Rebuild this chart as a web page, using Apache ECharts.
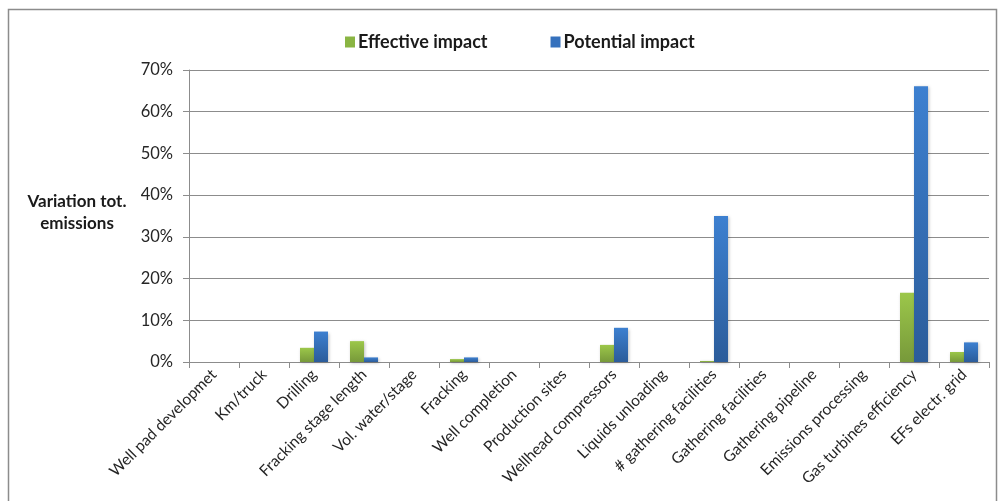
<!DOCTYPE html>
<html>
<head>
<meta charset="utf-8">
<script src="https://cdn.jsdelivr.net/npm/echarts@6/dist/echarts.min.js"></script>
<style>
  html, body { margin: 0; padding: 0; background: #fff; }
  #chart { width: 1000px; height: 501px; }
</style>
</head>
<body>
<div id="chart"></div>
<script>
// Emission drivers analysed
const categories = [
  'Well pad developmet', 'Km/truck', 'Drilling', 'Fracking stage length',
  'Vol. water/stage', 'Fracking', 'Well completion', 'Production sites',
  'Wellhead compressors', 'Liquids unloading', '# gathering facilities',
  'Gathering facilities', 'Gathering pipeline', 'Emissions processing',
  'Gas turbines efficiency', 'EFs electr. grid'
];
// Variation of total emissions, in %
const effectiveImpact = [0, 0, 3.4, 5.0, 0, 0.7, 0, 0, 4.1, 0, 0.25, 0, 0, 0, 16.6, 2.4];
const potentialImpact = [0, 0, 7.3, 1.1, 0, 1.1, 0, 0, 8.2, 0, 35.0, 0, 0, 0, 66.1, 4.7];
const yTicks = [0, 10, 20, 30, 40, 50, 60, 70];

const FONT = 'Lato, "Open Sans", sans-serif';

const greenFill = new echarts.graphic.LinearGradient(0, 0, 0, 1, [
  { offset: 0, color: '#9cc74a' },
  { offset: 1, color: '#77993a' }
]);
const blueFill = new echarts.graphic.LinearGradient(0, 0, 0, 1, [
  { offset: 0, color: '#3d80d0' },
  { offset: 1, color: '#2b5c9a' }
]);

const chart = echarts.init(document.getElementById('chart'), null, { renderer: 'canvas' });

chart.setOption({
  animation: false,
  backgroundColor: '#ffffff',
  graphic: [
    {
      type: 'rect',
      shape: { x: 8.5, y: 9.5, width: 988, height: 520 },
      style: { fill: 'none', stroke: '#8c8c8c', lineWidth: 1.5 },
      silent: true
    },
    {
      type: 'text',
      x: 77,
      y: 191,
      style: {
        text: 'Variation tot.\nemissions',
        align: 'center',
        verticalAlign: 'top',
        font: 'bold 17px ' + FONT,
        lineHeight: 22,
        fill: '#1a1a1a'
      }
    }
  ],
  legend: {
    top: 28,
    left: 340,
    itemGap: 63,
    itemWidth: 10,
    itemHeight: 11,
    icon: 'rect',
    textStyle: { fontFamily: FONT, fontWeight: 'bold', fontSize: 18, color: '#1a1a1a', padding: [0, 0, 0, -2] },
    data: [
      { name: 'Effective impact', itemStyle: { color: '#8ab543' } },
      { name: 'Potential impact', itemStyle: { color: '#3571bd' } }
    ]
  },
  grid: { left: 189, right: 11, top: 70, bottom: 139 },
  xAxis: {
    type: 'category',
    data: categories,
    axisLine: { lineStyle: { color: '#8c8c8c', width: 1 } },
    axisTick: { show: true, length: 6, lineStyle: { color: '#8c8c8c' } },
    axisLabel: {
      rotate: 45,
      interval: 0,
      margin: 10,
      fontFamily: FONT,
      fontSize: 15.5,
      color: '#262626'
    }
  },
  yAxis: {
    type: 'value',
    min: 0,
    max: 70,
    interval: 10,
    axisLine: { show: true, lineStyle: { color: '#8c8c8c' } },
    axisTick: { show: true, length: 6, lineStyle: { color: '#8c8c8c' } },
    axisLabel: {
      margin: 16,
      fontFamily: FONT,
      fontSize: 16.5,
      color: '#262626',
      formatter: v => (yTicks.includes(v) ? v + '%' : '')
    },
    splitLine: { lineStyle: { color: '#8c8c8c', width: 1 } }
  },
  series: [
    {
      name: 'Effective impact',
      type: 'bar',
      data: effectiveImpact,
      barWidth: 14,
      barGap: '0%',
      itemStyle: {
        color: greenFill,
        shadowColor: 'rgba(0,0,0,0.25)',
        shadowBlur: 3,
        shadowOffsetX: 1,
        shadowOffsetY: 1
      }
    },
    {
      name: 'Potential impact',
      type: 'bar',
      data: potentialImpact,
      barWidth: 14,
      barGap: '0%',
      itemStyle: {
        color: blueFill,
        shadowColor: 'rgba(0,0,0,0.25)',
        shadowBlur: 3,
        shadowOffsetX: 1,
        shadowOffsetY: 1
      }
    }
  ]
});
</script>
</body>
</html>
